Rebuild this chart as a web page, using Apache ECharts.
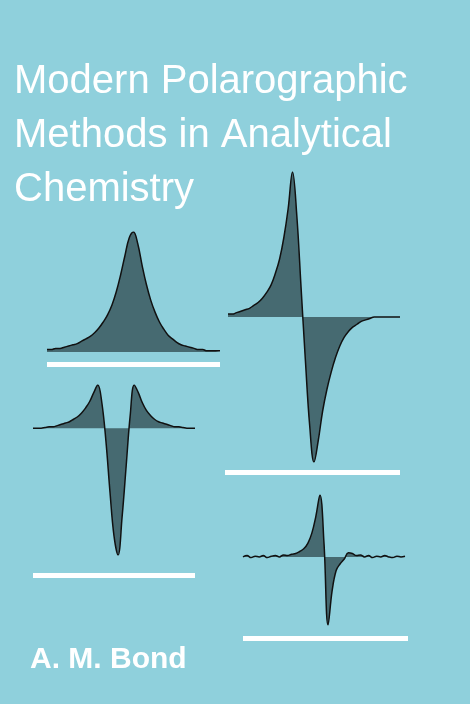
<!DOCTYPE html>
<html><head><meta charset="utf-8">
<script src="https://cdn.jsdelivr.net/npm/echarts@6/dist/echarts.min.js"></script>
<style>html,body{margin:0;padding:0;background:#8fd0dc}#c{width:470px;height:704px}</style>
</head><body><div id="c"></div>
<script>
const titleLines = ["Modern Polarographic","Methods in Analytical","Chemistry"];
const author = "A. M. Bond";
const curve1 = [0.02,0.02,0.03,0.03,0.04,0.05,0.06,0.07,0.09,0.11,0.13,0.16,0.2,0.25,0.31,0.39,0.5,0.64,0.8,0.95,1.0,0.9,0.72,0.56,0.43,0.33,0.25,0.19,0.14,0.11,0.08,0.06,0.05,0.04,0.03,0.02,0.02,0.01,0.01,0.01,0.01];
const curve2 = [0.02,0.02,0.03,0.04,0.05,0.06,0.08,0.1,0.13,0.17,0.22,0.3,0.4,0.55,0.75,1.0,0.7,0.2,-0.3,-0.75,-1.0,-0.85,-0.65,-0.5,-0.38,-0.28,-0.2,-0.14,-0.1,-0.07,-0.05,-0.03,-0.02,-0.01,0,0,0,0,0,0,0];
const curve3 = [0,0,0,0.005,0.01,0.01,0.02,0.03,0.04,0.05,0.07,0.09,0.12,0.16,0.21,0.28,0.34,0.2,-0.1,-0.5,-0.85,-1.0,-0.7,-0.3,0.1,0.34,0.28,0.2,0.14,0.1,0.07,0.05,0.04,0.03,0.02,0.01,0.01,0.005,0,0,0];
const curve4 = [0,0.02,-0.01,0.01,0,0.02,-0.01,0.01,0.02,0,0.03,0.02,0.04,0.05,0.08,0.12,0.2,0.35,0.6,0.91,0.2,-1.0,-0.5,-0.2,-0.1,-0.03,0.06,0.05,0.02,0.03,0,0.02,-0.01,0.01,0,0.02,0,-0.01,0.01,0,0.01];
const curves = [curve1,curve2,curve3,curve4];
const boxes = [
 {left:47,width:173,top:232,height:120,min:0,max:1,bar:[47,362,173]},
 {left:228,width:172,top:172,height:290,min:-1,max:1,bar:[225,470,175]},
 {left:33,width:162,top:385,height:170,min:-1,max:0.34,bar:[33,573,162]},
 {left:243,width:162,top:495,height:130,min:-1,max:0.91,bar:[243,636,165]}
];
const chart = echarts.init(document.getElementById('c'));
const grids=[],xs=[],ys=[],series=[],graphics=[];
boxes.forEach((b,i)=>{
 grids.push({left:b.left,width:b.width,top:b.top,height:b.height});
 xs.push({type:'category',gridIndex:i,data:curves[i].map((_,k)=>k),boundaryGap:false,show:false});
 ys.push({type:'value',gridIndex:i,min:b.min,max:b.max,show:false});
 series.push({type:'line',xAxisIndex:i,yAxisIndex:i,data:curves[i],smooth:0.4,symbol:'none',
  lineStyle:{color:'#111',width:1.5},areaStyle:{color:'#16262a',opacity:0.6,origin:0}});
 graphics.push({type:'rect',shape:{x:b.bar[0],y:b.bar[1],width:b.bar[2],height:5},style:{fill:'#ffffff'}});
});
titleLines.forEach((t,i)=>graphics.push({type:'text',left:14,top:62+i*54,style:{text:t,fill:'#ffffff',font:'500 40px "Liberation Sans", sans-serif'}}));
graphics.push({type:'text',left:30,top:645,style:{text:author,fill:'#ffffff',font:'bold 30px "Liberation Sans", sans-serif'}});
chart.setOption({backgroundColor:'#8fd0dc',animation:false,grid:grids,xAxis:xs,yAxis:ys,series:series,graphic:graphics});
</script></body></html>
